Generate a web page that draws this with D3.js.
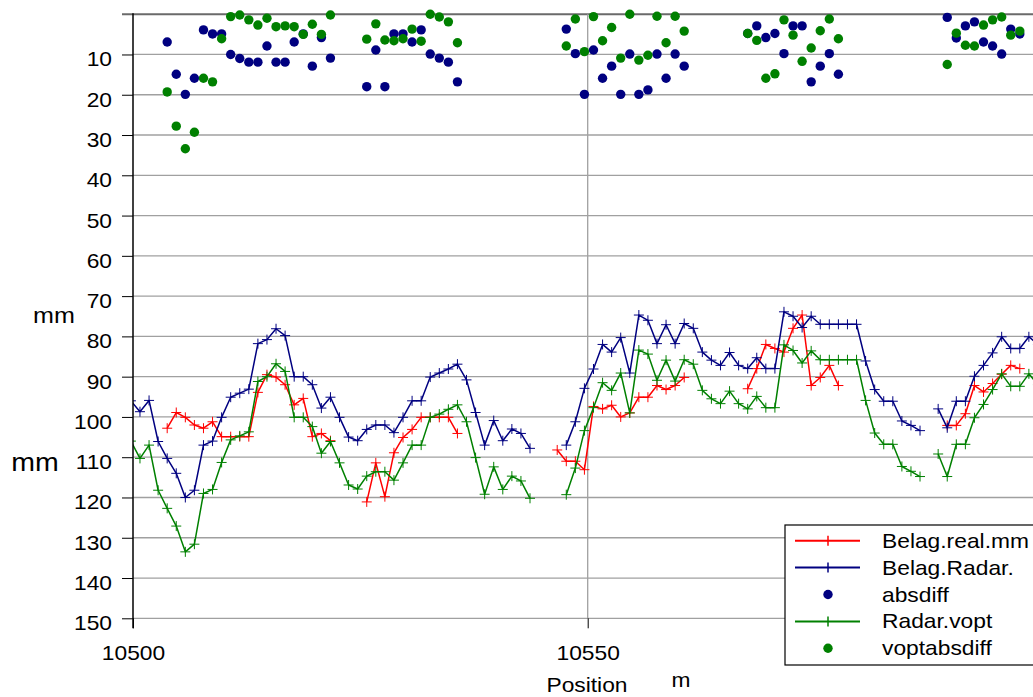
<!DOCTYPE html>
<html><head><meta charset="utf-8">
<script src="https://cdn.jsdelivr.net/npm/d3@7/dist/d3.min.js"></script>
<style>
body{margin:0;background:#fff;}
svg{display:block;}
text{font-family:"Liberation Sans",Arial,sans-serif;fill:#000;}
</style>
</head><body>
<svg id="chart" width="1033" height="697"></svg>
<script>
// ---- data (index 0 = first reading, just left of 10500) ----
const positionStart = 10499.77;   // m
const positionStep = 0.9974;      // m between readings
const belagReal = [
  null, null, null, null, 102.8, 98.9, 100.1, 102, 102.8, 101.2, 104.9,
  104.9, 104.9, 104.9, 93.9, 89.5, 90.1, 92, 97, 95.4, 104.9,
  104.1, 105.9, null, null, null, 121.1, 111.4, 119.8, 108.9, 105.1,
  103.1, 100.1, 100.1, 100.1, 100.1, 104.1, null, null, null, null,
  null, null, null, null, null, null, 108.2, 111, 111, 113.1,
  97.4, 98, 97.1, 100, 99, 95.1, 95.1, 92.2, 93.2, 92.2,
  90.2, null, null, null, null, null, null, 93, 88, 82,
  83, 83.9, 78, 74.7, 92.2, 90.2, 87.2, 92.2, null, null,
  null, null, null, null, null, null, null, null, null, 102.1,
  102.1, 99.2, 92.2, 93.8, 91.7, 89.4, 87.2, 88, null, null
];
const belagRadar = [
  96, 98.7, 95.9, 106.1, 110.3, 114, 120, 118.2, 107, 106, 100.1,
  95.1, 94.1, 93.1, 81.8, 80.8, 78.1, 79.8, 90, 90, 92,
  97.8, 95.1, 100.1, 105, 105.9, 103.1, 102, 102, 103.9, 100.1,
  96, 96, 90.1, 89.1, 88.1, 86.9, 90.8, 98.9, 107, 100.9,
  105.9, 103, 104.1, 107.8, null, null, null, 107, 101.2, 92.9,
  88.1, 82, 83.9, 80.3, 89.1, 74.7, 76, 81.8, 77.1, 81.8,
  76.8, 78, 83.9, 85.9, 87.2, 84, 87.2, 88, 85.3, 88,
  88, 73.9, 75, 77.8, 75, 77, 77, 77, 77, 77,
  86.1, 93.2, 96.1, 96.1, 101, 102.1, 103.4, null, 98, 102.7,
  96.1, 96.1, 89.9, 87.2, 84.1, 80.1, 83, 83, 80.1, 82
];
const absdiff = [
  null, null, null, null, 6.9, 14.9, 19.9, 15.9, 3.9, 4.9, 4.9,
  10, 11, 11.9, 11.9, 7.9, 11.9, 11.9, 6.9, 4.9, 12.9,
  5.8, 10.9, null, null, null, 18, 8.9, 18, 4.9, 4.9,
  6.9, 3.9, 9.9, 10.9, 11.9, 16.8, null, null, null, null,
  null, null, null, null, null, null, null, 3.7, 9.8, 19.9,
  8.9, 15.9, 12.9, 19.9, 9.9, 19.9, 18.8, 9.9, 15.9, 9.9,
  12.9, null, null, null, null, null, null, 4.8, 2.9, 5.8,
  4.8, 9.8, 2.9, 2.9, 16.8, 12.9, 9.8, 14.9, null, null,
  null, null, null, null, null, null, null, null, null, 0.8,
  5.9, 2.9, 1.9, 6.9, 7.9, 9.9, 3.7, 4.9, null, null
];
const radarVopt = [
  106, 110.3, 107, 118.2, 122.7, 127.1, 133.5, 131.6, 119, 118, 111.3,
  105.7, 104.7, 103.7, 91.2, 90, 86.8, 88.7, 100.1, 100.1, 102.4,
  109, 106.1, 111.4, 116.9, 117.9, 114.7, 113.6, 113.6, 115.7, 111.4,
  107, 107, 100.1, 99.3, 98.1, 97, 101.2, 110.1, 119.2, 112.4,
  118, 114.7, 115.9, 120.2, null, null, null, 119.3, 112.7, 103.4,
  97.7, 91.5, 93.4, 89.1, 99, 83.4, 84.4, 90.9, 85.9, 91.1,
  85.8, 86.9, 93.4, 95.5, 96.7, 93.6, 96.7, 98, 94.9, 97.7,
  97.7, 82.1, 83.5, 86.6, 83.6, 85.8, 85.8, 85.8, 85.8, 85.8,
  95.9, 104, 106.8, 106.8, 112.3, 113.5, 114.8, null, 109.2, 114.8,
  106.8, 106.8, 100.2, 96.9, 93.2, 89.3, 92.4, 92.4, 89.3, 92
];
const voptabsdiff = [
  null, null, null, null, 19.3, 27.8, 33.4, 29.3, 15.9, 16.8, 6.1,
  0.6, 0.2, 1.4, 2.7, 1, 3.1, 2.9, 3.1, 5, 2.5,
  5, 0.2, null, null, null, 6.2, 2.4, 6.4, 6.6, 6.1,
  3.7, 6.7, 0, 0.7, 1.9, 7.1, null, null, null, null,
  null, null, null, null, null, null, null, 7.9, 1.2, 9.3,
  0.6, 6.6, 3.3, 10.9, 0, 11.4, 10.2, 0.5, 7.1, 0.5,
  4.2, null, null, null, null, null, null, 4.8, 6.5, 15.9,
  14.8, 1.4, 5.2, 11.7, 8.4, 4.1, 1.2, 6.1, null, null,
  null, null, null, null, null, null, null, null, null, 12.5,
  4.7, 7.7, 7.9, 2.7, 1.4, 0.7, 5.2, 4.2, null, null
];
const yTicks = [10, 20, 30, 40, 50, 60, 70, 80, 90, 100, 110, 120, 130, 140, 150];
const xTicks = [10500, 10550];
const seriesNames = ["Belag.real.mm", "Belag.Radar.", "absdiff", "Radar.vopt", "voptabsdiff"];

// ---- layout ----
const W = 1033, H = 697;
const plotLeft = 133, plotTop = 14.2, plotBottom = 618.3;
const pxPerM = 9.094;
const SX = 1.14;
const svg = d3.select("#chart");

const positions = belagRadar.map((_, i) => positionStart + i * positionStep);
const x = d3.scaleLinear().domain([10500, 10600]).range([plotLeft, plotLeft + 100 * pxPerM]);
const y = d3.scaleLinear().domain([0, 150]).range([plotTop, plotBottom]);

// gridlines
svg.append("g").selectAll("line").data(yTicks).join("line")
  .attr("x1", plotLeft).attr("x2", W)
  .attr("y1", d => y(d)).attr("y2", d => y(d))
  .attr("stroke", "#a0a0a0").attr("stroke-width", 1.3);
svg.append("line").attr("x1", plotLeft - 11).attr("x2", W)
  .attr("y1", y(0)).attr("y2", y(0)).attr("stroke", "#6a6a6a").attr("stroke-width", 2);
svg.append("line").attr("x1", x(10550)).attr("x2", x(10550))
  .attr("y1", y(0)).attr("y2", y(150)).attr("stroke", "#a0a0a0").attr("stroke-width", 1.3);

// clip
svg.append("defs").append("clipPath").attr("id", "plotclip")
  .append("rect").attr("x", plotLeft).attr("y", 0).attr("width", W).attr("height", H);

const colors = {red: "#ff0000", blue: "#000080", green: "#008000"};

function drawLine(values, color) {
  const pts = values.map((v, i) => ({x: positions[i], v}));
  const g = svg.append("g").attr("clip-path", "url(#plotclip)");
  const line = d3.line().defined(d => d.v != null).x(d => x(d.x)).y(d => y(d.v));
  g.append("path").datum(pts).attr("d", line).attr("fill", "none")
    .attr("stroke", color).attr("stroke-width", 1.5).attr("stroke-linejoin", "round");
  g.selectAll("path.m").data(pts.filter(d => d.v != null)).join("path").attr("class", "m")
    .attr("d", d => `M${x(d.x) - 5},${y(d.v)}H${x(d.x) + 5}M${x(d.x)},${y(d.v) - 5}V${y(d.v) + 5}`)
    .attr("stroke", color).attr("stroke-width", 1).attr("fill", "none");
}
function drawDots(values, color) {
  const pts = values.map((v, i) => ({x: positions[i], v})).filter(d => d.v != null);
  svg.append("g").selectAll("circle").data(pts).join("circle")
    .attr("cx", d => x(d.x)).attr("cy", d => y(d.v)).attr("r", 4.7).attr("fill", color);
}

drawLine(belagReal, colors.red);
drawLine(belagRadar, colors.blue);
drawDots(absdiff, colors.blue);
drawLine(radarVopt, colors.green);
drawDots(voptabsdiff, colors.green);

// y axis
const gy = svg.append("g").attr("transform", `translate(${plotLeft},0)`)
  .call(d3.axisLeft(y).tickValues(yTicks).tickSize(11).tickSizeOuter(0));
gy.attr("font-family", null).attr("font-size", null);
gy.select(".domain").remove();
gy.selectAll(".tick line").attr("stroke", "#000").attr("stroke-width", 1);
gy.selectAll(".tick text").attr("x", null).attr("dy", null).attr("fill", "#000")
  .attr("font-size", 20).attr("text-anchor", "end")
  .attr("transform", `translate(-21,11.5) scale(${SX},1)`);
svg.append("line").attr("x1", plotLeft).attr("x2", plotLeft)
  .attr("y1", y(0) - 1).attr("y2", y(150) + 10).attr("stroke", "#000").attr("stroke-width", 1.5);

// x axis
const gx = svg.append("g").attr("transform", `translate(0,${y(150)})`)
  .call(d3.axisBottom(x).tickValues(xTicks).tickSize(10).tickSizeOuter(0).tickFormat(d3.format("d")));
gx.attr("font-family", null).attr("font-size", null);
gx.select(".domain").remove();
gx.selectAll(".tick line").attr("stroke", "#000").attr("stroke-width", 1);
gx.selectAll(".tick text").attr("y", null).attr("dy", null).attr("fill", "#000")
  .attr("font-size", 20).attr("text-anchor", "middle")
  .attr("transform", `translate(0,42) scale(${SX},1)`);

// axis titles
function stretchedText(txt, cx, by, size, anchor) {
  svg.append("text").attr("transform", `translate(${cx},${by}) scale(${SX},1)`)
    .attr("text-anchor", anchor || "middle").attr("font-size", size).text(txt);
}
stretchedText("mm", 54, 323, 22);
stretchedText("mm", 35, 471, 25);
stretchedText("Position", 587, 691.5, 20);
stretchedText("m", 681, 687, 20);

// legend
const lg = svg.append("g");
lg.append("rect").attr("x", 785).attr("y", 525).attr("width", 270).attr("height", 140)
  .attr("fill", "#fff").attr("stroke", "#000").attr("stroke-width", 1.2);
const legendItems = [
  {name: seriesNames[0], color: colors.red, type: "line"},
  {name: seriesNames[1], color: colors.blue, type: "line"},
  {name: seriesNames[2], color: colors.blue, type: "dot"},
  {name: seriesNames[3], color: colors.green, type: "line"},
  {name: seriesNames[4], color: colors.green, type: "dot"}
];
legendItems.forEach((it, i) => {
  const cy = 540.7 + i * 26.9;
  if (it.type === "line") {
    lg.append("line").attr("x1", 795).attr("x2", 860).attr("y1", cy).attr("y2", cy)
      .attr("stroke", it.color).attr("stroke-width", 2);
    lg.append("line").attr("x1", 828).attr("x2", 828).attr("y1", cy - 5).attr("y2", cy + 5)
      .attr("stroke", it.color).attr("stroke-width", 1.5);
  } else {
    lg.append("circle").attr("cx", 828).attr("cy", cy).attr("r", 4.7).attr("fill", it.color);
  }
  lg.append("text").attr("transform", `translate(882,${cy + 7}) scale(${SX},1)`)
    .attr("font-size", 20).text(it.name);
});
</script>
</body></html>
